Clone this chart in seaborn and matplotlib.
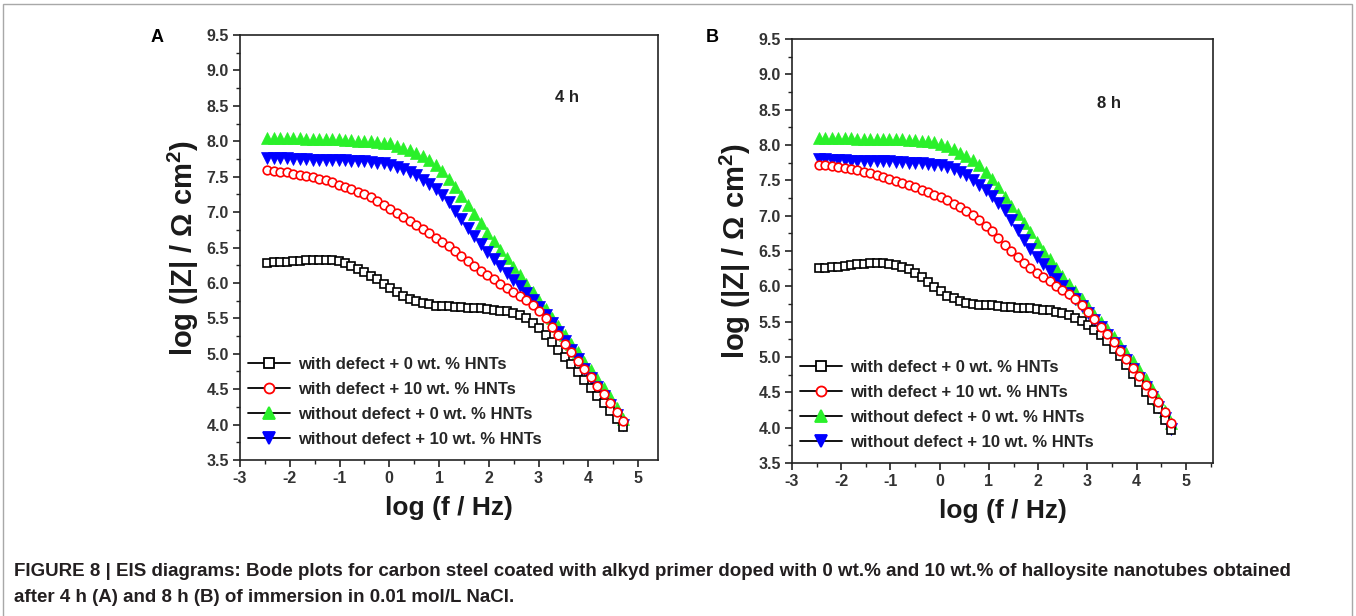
import matplotlib
matplotlib.use("Agg")
import matplotlib.pyplot as plt
import pandas as pd
import seaborn as sns
from matplotlib.lines import Line2D
from matplotlib.patches import Rectangle
from matplotlib.ticker import MultipleLocator

# ---------------- data ----------------
log_f = [-2.45, -2.32, -2.19, -2.06, -1.93, -1.80, -1.67, -1.54, -1.41, -1.28,
         -1.15, -1.02, -0.89, -0.76, -0.63, -0.50, -0.37, -0.24, -0.11, 0.02,
         0.15, 0.28, 0.41, 0.54, 0.67, 0.80, 0.93, 1.06, 1.19, 1.32,
         1.45, 1.58, 1.71, 1.84, 1.97, 2.10, 2.23, 2.36, 2.49, 2.62,
         2.75, 2.88, 3.01, 3.14, 3.27, 3.40, 3.53, 3.66, 3.79, 3.92,
         4.05, 4.18, 4.31, 4.44, 4.57, 4.70]

# Panel A (4 h)
a_defect_0 = [6.28, 6.29, 6.30, 6.30, 6.31, 6.31, 6.32, 6.32, 6.33, 6.33,
              6.33, 6.31, 6.28, 6.24, 6.20, 6.15, 6.10, 6.05, 5.99, 5.93,
              5.87, 5.82, 5.78, 5.74, 5.71, 5.70, 5.68, 5.67, 5.67, 5.66,
              5.66, 5.65, 5.64, 5.64, 5.63, 5.62, 5.61, 5.60, 5.58, 5.55,
              5.50, 5.44, 5.36, 5.26, 5.16, 5.05, 4.95, 4.85, 4.74, 4.63,
              4.52, 4.41, 4.30, 4.19, 4.08, 3.97]
a_defect_10 = [7.59, 7.58, 7.57, 7.56, 7.54, 7.53, 7.51, 7.49, 7.47, 7.45,
               7.42, 7.38, 7.35, 7.32, 7.29, 7.26, 7.22, 7.16, 7.10, 7.04,
               6.99, 6.93, 6.88, 6.82, 6.76, 6.70, 6.64, 6.58, 6.52, 6.45,
               6.38, 6.31, 6.24, 6.17, 6.11, 6.05, 5.99, 5.93, 5.87, 5.82,
               5.76, 5.69, 5.61, 5.50, 5.38, 5.26, 5.14, 5.02, 4.90, 4.79,
               4.67, 4.55, 4.43, 4.31, 4.18, 4.05]
a_nodefect_0 = [8.05, 8.05, 8.05, 8.04, 8.04, 8.04, 8.03, 8.03, 8.03, 8.03,
                8.03, 8.03, 8.02, 8.02, 8.01, 8.01, 8.00, 7.99, 7.98, 7.97,
                7.94, 7.91, 7.88, 7.84, 7.79, 7.73, 7.66, 7.58, 7.47, 7.36,
                7.23, 7.10, 6.97, 6.84, 6.71, 6.59, 6.47, 6.35, 6.23, 6.11,
                5.99, 5.87, 5.75, 5.63, 5.51, 5.39, 5.26, 5.14, 5.02, 4.89,
                4.77, 4.64, 4.52, 4.39, 4.24, 4.08]
a_nodefect_10 = [7.77, 7.77, 7.76, 7.76, 7.75, 7.75, 7.75, 7.74, 7.74, 7.74,
                 7.73, 7.73, 7.73, 7.72, 7.72, 7.72, 7.71, 7.70, 7.69, 7.67,
                 7.64, 7.61, 7.57, 7.52, 7.46, 7.40, 7.32, 7.24, 7.14, 7.02,
                 6.90, 6.78, 6.66, 6.55, 6.44, 6.34, 6.24, 6.14, 6.04, 5.95,
                 5.86, 5.76, 5.66, 5.55, 5.43, 5.31, 5.18, 5.05, 4.92, 4.79,
                 4.66, 4.53, 4.40, 4.27, 4.13, 3.99]

# Panel B (8 h)
b_defect_0 = [6.26, 6.26, 6.27, 6.28, 6.29, 6.30, 6.31, 6.32, 6.33, 6.33,
              6.33, 6.32, 6.30, 6.27, 6.24, 6.19, 6.13, 6.06, 5.99, 5.93,
              5.87, 5.83, 5.79, 5.76, 5.75, 5.74, 5.73, 5.73, 5.72, 5.71,
              5.71, 5.70, 5.70, 5.69, 5.68, 5.67, 5.66, 5.64, 5.62, 5.59,
              5.55, 5.51, 5.45, 5.38, 5.31, 5.22, 5.12, 5.01, 4.89, 4.76,
              4.64, 4.51, 4.39, 4.26, 4.11, 3.96]
b_defect_10 = [7.72, 7.71, 7.70, 7.69, 7.67, 7.66, 7.64, 7.62, 7.60, 7.58,
               7.55, 7.52, 7.49, 7.46, 7.43, 7.40, 7.37, 7.33, 7.29, 7.26,
               7.22, 7.17, 7.12, 7.07, 7.01, 6.94, 6.86, 6.78, 6.69, 6.59,
               6.50, 6.41, 6.33, 6.26, 6.19, 6.13, 6.07, 6.01, 5.95, 5.89,
               5.82, 5.74, 5.64, 5.54, 5.43, 5.32, 5.21, 5.09, 4.97, 4.85,
               4.73, 4.61, 4.49, 4.37, 4.22, 4.06]
b_nodefect_0 = [8.10, 8.10, 8.10, 8.10, 8.10, 8.10, 8.09, 8.09, 8.09, 8.09,
                8.09, 8.09, 8.08, 8.08, 8.07, 8.07, 8.06, 8.05, 8.04, 8.02,
                7.98, 7.94, 7.89, 7.84, 7.79, 7.71, 7.62, 7.52, 7.40, 7.26,
                7.14, 7.02, 6.90, 6.77, 6.63, 6.50, 6.38, 6.26, 6.15, 6.04,
                5.93, 5.82, 5.71, 5.60, 5.49, 5.39, 5.28, 5.17, 5.05, 4.94,
                4.82, 4.69, 4.55, 4.40, 4.24, 4.07]
b_nodefect_10 = [7.80, 7.80, 7.79, 7.79, 7.79, 7.78, 7.78, 7.78, 7.77, 7.77,
                 7.77, 7.77, 7.76, 7.76, 7.75, 7.75, 7.74, 7.73, 7.72, 7.71,
                 7.69, 7.66, 7.62, 7.57, 7.51, 7.44, 7.37, 7.28, 7.18, 7.08,
                 6.94, 6.80, 6.66, 6.53, 6.42, 6.31, 6.21, 6.11, 6.01, 5.91,
                 5.82, 5.72, 5.62, 5.52, 5.42, 5.31, 5.20, 5.08, 4.96, 4.83,
                 4.70, 4.57, 4.43, 4.29, 4.14, 3.98]

series_labels = ["with defect + 0 wt. % HNTs",
                 "with defect + 10 wt. % HNTs",
                 "without defect + 0 wt. % HNTs",
                 "without defect + 10 wt. % HNTs"]
x_ticks = [-3, -2, -1, 0, 1, 2, 3, 4, 5]
y_ticks = [3.5, 4.0, 4.5, 5.0, 5.5, 6.0, 6.5, 7.0, 7.5, 8.0, 8.5, 9.0, 9.5]
panel_letters = ["A", "B"]
panel_times = ["4 h", "8 h"]

caption_1 = ("FIGURE 8 | EIS diagrams: Bode plots for carbon steel coated with alkyd primer "
             "doped with 0 wt.% and 10 wt.% of halloysite nanotubes obtained")
caption_2 = "after 4 h (A) and 8 h (B) of immersion in 0.01 mol/L NaCl."

# ---------------- style ----------------
sns.set_style("ticks")
plt.rcParams["font.family"] = ["Liberation Sans", "DejaVu Sans"]
plt.rcParams["mathtext.fontset"] = "custom"
plt.rcParams["mathtext.rm"] = "Liberation Sans"
plt.rcParams["mathtext.bf"] = "Liberation Sans:bold"
plt.rcParams["axes.unicode_minus"] = False

# marker styles: (marker, size, facecolor, edgecolor, edgewidth)
styles = [
    ("s", 5.8, "white", "black", 1.2),
    ("o", 6.2, "white", "#ff0000", 1.2),
    ("^", 8.2, "#2af02a", "#2af02a", 0.5),
    ("v", 8.2, "#0000ff", "#0000ff", 0.5),
]
draw_order = [2, 3, 0, 1]

fig = plt.figure(figsize=(13.56, 6.16), dpi=100)
W, H = 1356.0, 616.0
axA = fig.add_axes([240 / W, 1 - 460 / H, 418 / W, 425 / H])
axB = fig.add_axes([792 / W, 1 - 463 / H, 421 / W, 424 / H])

panels = [
    (axA, [a_defect_0, a_defect_10, a_nodefect_0, a_nodefect_10]),
    (axB, [b_defect_0, b_defect_10, b_nodefect_0, b_nodefect_10]),
]
time_pos = [(0.754, 0.854), (0.724, 0.849)]

for pi, (ax, data) in enumerate(panels):
    for si in draw_order:
        m, ms, fc, ec, ew = styles[si]
        df = pd.DataFrame({"logf": log_f, "logz": data[si]})
        sns.lineplot(data=df, x="logf", y="logz", ax=ax, estimator=None, sort=False,
                     linestyle="none", marker=m, markersize=ms,
                     markerfacecolor=fc, markeredgecolor=ec, markeredgewidth=ew,
                     color=ec, legend=False)
    ax.set_xlim(-3, 5.4 if pi == 0 else 5.55)
    ax.set_ylim(3.5, 9.5)
    ax.set_xticks(x_ticks)
    ax.set_xticklabels([str(v) for v in x_ticks])
    ax.set_yticks(y_ticks)
    ax.set_yticklabels([f"{v:.1f}" for v in y_ticks])
    ax.xaxis.set_minor_locator(MultipleLocator(0.5))
    ax.yaxis.set_minor_locator(MultipleLocator(0.25))
    ax.tick_params(which="major", direction="out", length=5, width=1.2,
                   colors="#222222", labelsize=11.5, pad=3)
    ax.tick_params(which="minor", direction="out", length=3, width=1.0, colors="#222222")
    for lab in ax.get_xticklabels() + ax.get_yticklabels():
        lab.set_fontweight("bold")
        lab.set_color("#333333")
    for sp in ax.spines.values():
        sp.set_visible(True)
        sp.set_linewidth(1.2)
        sp.set_color("#222222")
    ax.set_xlabel("log (f / Hz)", fontsize=19, fontweight="bold", color="#1a1a1a", labelpad=7)
    ax.set_ylabel(r"log (|Z| / Ω cm$^{\mathbf{2}}$)", fontsize=21, fontweight="bold",
                  color="#1a1a1a", labelpad=4)

    handles = []
    for si in range(4):
        m, ms, fc, ec, ew = styles[si]
        handles.append(Line2D([0], [0], color="black", lw=1.3, marker=m,
                              markersize=ms + 1.0, markerfacecolor=fc,
                              markeredgecolor=ec, markeredgewidth=1.3))
    ax.legend(handles, series_labels, loc="lower left", bbox_to_anchor=(0.02, 0.03),
              frameon=False, handlelength=2.5, handletextpad=0.5, labelspacing=0.6,
              borderpad=0.0, borderaxespad=0.0,
              prop={"weight": "bold", "size": 12})

    tx, ty = time_pos[pi]
    ax.text(tx, ty, panel_times[pi], transform=ax.transAxes, fontsize=12,
            fontweight="bold", color="#222222", va="center", ha="left")

fig.text(157 / W, 1 - 38 / H, panel_letters[0], fontsize=13, fontweight="bold",
         ha="center", va="center", color="black")
fig.text(712 / W, 1 - 38 / H, panel_letters[1], fontsize=13, fontweight="bold",
         ha="center", va="center", color="black")

fig.text(14 / W, 1 - 572 / H, caption_1, fontsize=13.5, fontweight="bold",
         ha="left", va="center", color="#231f20")
fig.text(14 / W, 1 - 598 / H, caption_2, fontsize=13.5, fontweight="bold",
         ha="left", va="center", color="#231f20")

fig.patches.append(Rectangle((3 / W, -0.02), (1352 - 3) / W, (1 - 4 / H) + 0.02,
                             transform=fig.transFigure, fill=False,
                             edgecolor="#a8a8a8", linewidth=1.0))

fig.savefig("out.png", dpi=100, facecolor="white")
